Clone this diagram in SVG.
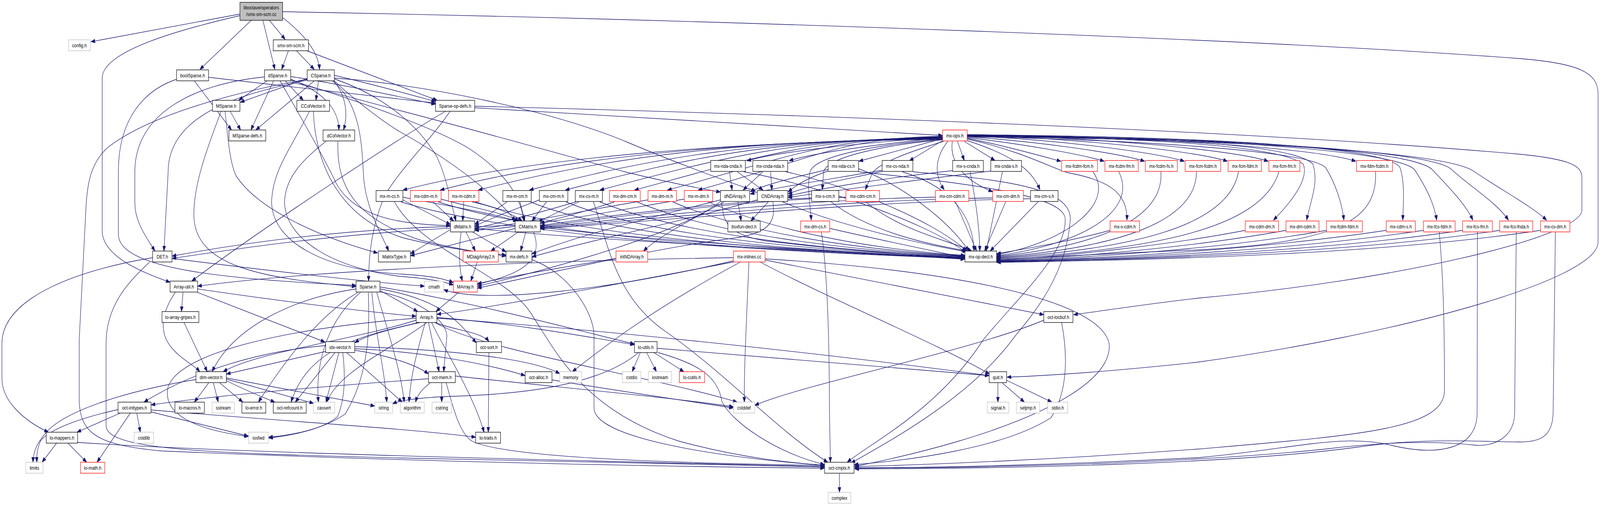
<svg xmlns="http://www.w3.org/2000/svg" width="4948" height="1296" viewBox="0 0 4948 1296" preserveAspectRatio="none">
<style>
svg{width:100vw;height:100vh;display:block;position:fixed;left:0;top:0}
.nd rect{fill:#fff;stroke:#000;stroke-width:1.33}
.gy rect{stroke:#bfbfbf}
.rd rect{stroke:#f00}
.rt rect{fill:#bfbfbf}
text{font-family:"Liberation Sans",Arial,Helvetica,sans-serif;font-size:13px;text-anchor:middle;fill:#000}
#edges path{fill:none;stroke:#191970;stroke-width:1.33;marker-end:url(#a)}
</style>
<defs>
<marker id="a" markerWidth="13" markerHeight="10" refX="13" refY="4.75" orient="auto" markerUnits="userSpaceOnUse"><path d="M0,0 L13,4.75 L0,9.5 z" fill="#191970" stroke="#191970" stroke-width="1"/></marker>
</defs>
<rect x="0" y="0" width="4948" height="1296" fill="#fff"/>
<g id="edges">
<path d="M742,36 L281,107"/>
<path d="M742,40 C560,75 316,130 316,200 L316,590 C316,660 450,700 526,723"/>
<path d="M777,52 L618,178"/>
<path d="M813,52 L850,178"/>
<path d="M833,52 L882,101"/>
<path d="M874,45 C935,85 985,130 988,178"/>
<path d="M874,30 C2200,50 3900,100 4700,150 C4880,162 4942,185 4942,240 L4942,620 C4942,720 4300,860 3700,928 C3450,950 3250,962 3114,966"/>
<path d="M892,130 L871,178"/>
<path d="M917,130 L972,178"/>
<path d="M949,130 L1352,257"/>
<path d="M601,207 L716,333"/>
<path d="M645,198 C900,222 1200,252 1347,264"/>
<path d="M546,203 C450,230 366,300 366,440 L366,600 C366,690 700,715 1101,731"/>
<path d="M826,207 L738,257"/>
<path d="M846,207 L776,333"/>
<path d="M882,207 L938,257"/>
<path d="M899,203 C1000,235 1048,280 1048,333"/>
<path d="M899,196 C1050,215 1250,250 1347,267"/>
<path d="M818,197 C600,215 417,290 417,440 L417,520 C417,570 455,610 479,643"/>
<path d="M866,207 C930,300 1000,400 1040,470 C1100,560 1250,575 1393,578"/>
<path d="M899,210 C1050,240 1150,265 1236,283 C1500,340 1800,410 1932,440 C2080,470 2180,485 2228,492"/>
<path d="M899,205 C1150,270 1350,330 1450,380 C1560,440 1610,500 1620,566"/>
<path d="M950,201 L743,262"/>
<path d="M972,207 L791,333"/>
<path d="M985,207 L977,257"/>
<path d="M1032,207 C1075,250 1075,300 1062,333"/>
<path d="M1034,193 C1150,215 1280,245 1347,260"/>
<path d="M950,205 C750,240 520,290 520,440 L507,643"/>
<path d="M950,203 C700,240 450,300 330,380 C280,420 270,470 266,530 L245,870 L245,1030 C250,1110 300,1140 500,1155 C1200,1180 2000,1195 2550,1199"/>
<path d="M1028,207 C1125,270 1119,400 1125,460 C1135,540 1180,600 1202,643"/>
<path d="M1034,202 C1200,250 1300,330 1350,400 C1380,450 1395,520 1410,566"/>
<path d="M1034,207 C1100,260 1200,320 1236,337 C1350,390 1500,470 1595,566"/>
<path d="M1034,200 C1300,215 1700,280 1948,367 C2100,420 2250,465 2337,490"/>
<path d="M712,285 L744,333"/>
<path d="M684,285 C640,380 595,480 600,560 C610,680 800,712 1101,734"/>
<path d="M696,285 C705,360 712,420 730,450 C800,540 1000,610 1168,648"/>
<path d="M957,285 C900,380 840,440 840,520 C845,620 1000,690 1240,702 C1320,706 1370,712 1402,724"/>
<path d="M969,285 C975,420 1050,560 1250,610 C1400,640 1500,648 1565,653"/>
<path d="M1008,362 C950,400 880,450 880,520 C885,620 1050,690 1240,708 C1320,713 1370,720 1402,730"/>
<path d="M1045,362 C1040,480 1100,560 1300,615 C1450,645 1520,650 1565,656"/>
<path d="M1468,276 L2915,347"/>
<path d="M1378,285 C1250,345 800,590 593,720"/>
<path d="M1392,285 C1330,360 1250,420 1190,500 C1150,580 1140,650 1140,720"/>
<path d="M1468,272 C2400,292 3800,330 4700,395 C4860,408 4892,425 4892,455 L4892,540 C4880,610 4300,720 3712,763 C3550,778 3420,795 3320,806"/>
<path d="M2915,350 C2700,365 2420,385 2310,412"/>
<path d="M2915,352 C2720,370 2520,390 2440,412"/>
<path d="M2915,355 L2656,413"/>
<path d="M2915,360 L2812,412"/>
<path d="M2961,362 L2982,411"/>
<path d="M2982,362 L3077,411"/>
<path d="M2991,354 C3100,372 3200,395 3281,413"/>
<path d="M2991,352 C3150,368 3330,392 3415,413"/>
<path d="M2991,350 C3200,362 3450,390 3540,413"/>
<path d="M2991,348 C3250,356 3560,388 3663,413"/>
<path d="M2991,347 C3300,352 3690,385 3796,413"/>
<path d="M2991,346 C3350,350 3810,382 3922,413"/>
<path d="M2991,345 C3450,348 4050,375 4193,413"/>
<path d="M2915,357 C2300,362 1650,400 1246,487"/>
<path d="M2915,356 C2300,361 1760,400 1361,487"/>
<path d="M2915,355 C2300,360 1880,400 1479,487"/>
<path d="M2915,354 C2350,359 2030,400 1637,487"/>
<path d="M2915,353 C2400,358 2140,400 1748,487"/>
<path d="M2915,352 C2450,357 2250,400 1855,487"/>
<path d="M2915,351 C2500,356 2350,400 1962,487"/>
<path d="M2915,350 C2550,355 2450,400 2064,487"/>
<path d="M2915,349 C2600,354 2540,400 2159,487"/>
<path d="M2915,358 C2750,370 2560,400 2547,440 L2543,486"/>
<path d="M2918,362 C2800,392 2712,420 2697,445 L2676,486"/>
<path d="M2931,362 C2895,400 2885,445 2920,486"/>
<path d="M2945,362 C2935,420 2990,465 3070,491"/>
<path d="M2991,360 C3120,395 3190,430 3216,486"/>
<path d="M2915,356 C2700,372 2520,400 2505,440 C2495,480 2505,520 2509,564"/>
<path d="M2991,356 C3150,385 3240,425 3300,442 C3420,460 3488,490 3485,564"/>
<path d="M2991,348 C3500,352 3950,370 4030,420 C4050,460 3990,520 3938,564"/>
<path d="M2991,347 C3600,352 4000,370 4060,420 C4080,470 4050,520 4041,564"/>
<path d="M2991,350 C3600,360 4060,390 4100,430 C4130,470 4150,520 4156,564"/>
<path d="M2991,345 C3800,350 4300,380 4330,430 C4345,470 4340,520 4338,564"/>
<path d="M2991,346 C3800,352 4330,390 4375,435 C4410,480 4435,520 4443,564"/>
<path d="M2991,347 C3900,352 4380,390 4430,435 C4480,480 4530,520 4555,564"/>
<path d="M2991,348 C3900,355 4440,390 4490,435 C4550,480 4630,520 4665,564"/>
<path d="M2991,349 C3900,360 4480,390 4560,440 C4650,490 4740,530 4783,564"/>
<path d="M2256,440 L2264,487"/>
<path d="M2280,440 L2360,487"/>
<path d="M2359,440 L2298,487"/>
<path d="M2383,440 L2387,487"/>
<path d="M2561,434 C2450,455 2360,475 2320,491"/>
<path d="M2561,438 C2500,455 2460,475 2437,492"/>
<path d="M2728,436 C2560,460 2400,480 2320,497"/>
<path d="M2728,439 C2600,462 2480,480 2437,497"/>
<path d="M2946,437 C2750,455 2550,480 2437,502"/>
<path d="M3064,438 C2850,460 2600,485 2437,506"/>
<path d="M2655,440 C3000,470 3290,500 3294,560 C3300,650 3150,760 3041,870 C2900,1050 2700,1130 2620,1184"/>
<path d="M2823,440 C3100,460 3310,480 3310,560 C3300,700 3200,800 3140,860 C3000,1020 2750,1130 2632,1186"/>
<path d="M2540,594 C2560,700 2565,900 2565,1050 L2568,1184"/>
<path d="M1220,517 C1300,640 1560,700 1640,800 C1720,900 1800,1050 2100,1130 C2300,1175 2450,1185 2550,1192"/>
<path d="M1835,517 C1880,620 1900,760 2060,850 C2250,960 2400,1100 2560,1184"/>
<path d="M1246,512 L1393,575"/>
<path d="M1246,505 C1400,530 1520,545 1600,567"/>
<path d="M1339,517 L1403,566"/>
<path d="M1364,510 C1450,530 1560,545 1605,566"/>
<path d="M1434,517 L1431,566"/>
<path d="M1460,517 C1530,530 1580,545 1615,566"/>
<path d="M1568,517 L1468,575"/>
<path d="M1608,517 L1623,566"/>
<path d="M1668,512 C1580,540 1500,565 1468,580"/>
<path d="M1690,517 L1645,566"/>
<path d="M1781,517 C1650,550 1520,575 1468,585"/>
<path d="M1790,517 L1665,568"/>
<path d="M1900,517 C1800,545 1720,560 1671,572"/>
<path d="M2004,512 C1800,540 1600,575 1468,588"/>
<path d="M2116,510 C1900,540 1650,580 1468,590"/>
<path d="M2510,507 C2200,520 1850,555 1671,578"/>
<path d="M2616,505 C2300,515 1900,555 1671,580"/>
<path d="M2893,505 C2500,510 2000,555 1671,582"/>
<path d="M3070,507 C2600,512 2100,555 1671,584"/>
<path d="M3187,509 C2700,515 2200,555 1671,586"/>
<path d="M1240,517 C1600,610 2400,645 2984,662"/>
<path d="M1355,517 C1700,610 2400,645 2984,661"/>
<path d="M1470,517 C1800,608 2450,645 2984,660"/>
<path d="M1640,517 C1900,605 2450,644 2984,659"/>
<path d="M1750,517 C2000,603 2500,643 2984,658"/>
<path d="M1855,517 C2100,600 2550,642 2984,657"/>
<path d="M1970,517 C2200,598 2600,641 2984,656"/>
<path d="M2080,517 C2300,596 2650,640 2984,655"/>
<path d="M2190,517 C2400,594 2700,639 2984,654"/>
<path d="M2566,585 C2750,620 2900,645 2984,660"/>
<path d="M1468,585 C1900,620 2500,640 2984,663"/>
<path d="M1671,582 C2000,615 2500,640 2984,664"/>
<path d="M2232,517 C2236,570 2250,600 2367,617 C2600,640 2850,655 2984,661"/>
<path d="M2420,517 C2600,580 2850,625 2990,645"/>
<path d="M2570,517 C2700,600 2900,630 2992,643"/>
<path d="M2678,517 C2780,590 2950,620 3005,643"/>
<path d="M2955,517 L3020,643"/>
<path d="M3110,517 L3045,643"/>
<path d="M3210,517 L3062,643"/>
<path d="M3433,590 C3300,620 3150,640 3082,650"/>
<path d="M2300,440 C2500,470 2850,560 2986,646"/>
<path d="M2430,440 C2600,470 2880,560 2990,643"/>
<path d="M2655,432 C2780,470 2930,560 2996,643"/>
<path d="M2790,440 C2950,480 3010,560 3012,643"/>
<path d="M3000,440 C3020,520 3030,600 3030,643"/>
<path d="M3100,440 C3080,520 3060,600 3050,643"/>
<path d="M3380,440 C3450,520 3300,620 3082,652"/>
<path d="M3460,440 C3520,540 3350,625 3082,655"/>
<path d="M3590,440 C3600,560 3400,630 3082,657"/>
<path d="M3700,440 C3700,570 3450,635 3082,659"/>
<path d="M3830,440 C3800,580 3500,638 3082,661"/>
<path d="M3955,440 C3900,590 3550,640 3082,663"/>
<path d="M4254,440 C4260,560 4150,620 3708,640 C3400,650 3200,660 3082,665"/>
<path d="M3851,590 C3600,630 3300,655 3082,667"/>
<path d="M3977,590 C3700,632 3350,657 3082,668"/>
<path d="M4102,590 C3800,635 3400,659 3082,669"/>
<path d="M4287,590 C3900,638 3450,661 3082,670"/>
<path d="M4402,590 C4000,640 3500,662 3082,670"/>
<path d="M4523,590 C4100,642 3550,663 3082,671"/>
<path d="M4638,590 C4200,645 3600,664 3082,671"/>
<path d="M4764,590 C4300,648 3650,665 3082,672"/>
<path d="M4451,594 C4462,700 4467,800 4467,1000 C4467,1100 4200,1115 3708,1150 C3300,1175 2900,1190 2643,1195"/>
<path d="M4569,594 L4568,1060 C4566,1150 4450,1170 4300,1140 C4150,1110 4000,1150 3708,1172 C3300,1190 2900,1198 2643,1198"/>
<path d="M4689,594 L4684,1060 C4682,1120 4620,1145 4560,1140 C4450,1130 4300,1130 4100,1150 C3700,1185 3100,1198 2643,1199"/>
<path d="M4810,594 L4803,1060 C4800,1120 4760,1132 4700,1132 C4600,1132 4400,1120 4200,1145 C3800,1190 3100,1200 2643,1201"/>
<path d="M1426,594 C1418,640 1420,690 1430,720"/>
<path d="M1441,594 L1470,643"/>
<path d="M1461,594 L1565,645"/>
<path d="M1393,588 L1269,650"/>
<path d="M1393,580 C1000,590 700,630 532,656"/>
<path d="M1626,594 L1610,643"/>
<path d="M1603,594 L1518,643"/>
<path d="M1593,585 L1269,655"/>
<path d="M1593,577 C1100,590 750,635 532,662"/>
<path d="M1650,594 C1680,660 1630,700 1476,728"/>
<path d="M2282,517 L2292,566"/>
<path d="M2240,517 C2120,570 2030,610 1990,643"/>
<path d="M2228,512 C2000,560 1800,600 1645,650"/>
<path d="M2228,516 C2100,600 1700,690 1476,733"/>
<path d="M2376,517 L2322,566"/>
<path d="M2342,512 C2100,570 1800,620 1645,658"/>
<path d="M2390,517 C2400,570 2380,600 2250,612 C2000,640 1700,700 1476,738"/>
<path d="M1905,662 C1700,690 1550,712 1476,727"/>
<path d="M1476,671 L1456,720"/>
<path d="M1418,749 L1348,798"/>
<path d="M1645,665 C1760,700 1837,800 1837,860 L1837,1045 C1837,1120 2200,1170 2550,1192"/>
<path d="M472,660 C250,690 6,760 6,880 L6,970 C6,1030 80,1080 150,1107"/>
<path d="M463,671 C400,720 328,780 328,880 L328,1090 C328,1150 600,1160 1240,1173 C1800,1183 2300,1192 2550,1196"/>
<path d="M532,662 C800,690 1100,720 1313,733"/>
<path d="M566,749 L561,798"/>
<path d="M542,749 C500,800 490,850 530,890 C560,920 600,935 618,952"/>
<path d="M611,740 C900,775 1150,800 1287,810"/>
<path d="M611,749 L1005,876"/>
<path d="M569,826 L641,952"/>
<path d="M1175,744 L1292,798"/>
<path d="M1101,740 C900,765 720,840 656,952"/>
<path d="M1107,749 C1000,800 900,900 799,1030"/>
<path d="M1115,749 C1000,830 975,950 985,1030"/>
<path d="M1139,749 C1144,850 1140,960 1068,1060 C1000,1100 900,1115 830,1120"/>
<path d="M1150,749 C1160,850 1190,950 1196,1030"/>
<path d="M1175,740 C1380,770 1420,830 1473,878"/>
<path d="M1175,747 C1300,770 1380,820 1382,860 L1372,952"/>
<path d="M1175,735 C1500,780 1800,850 1962,881"/>
<path d="M1165,749 C1200,850 1240,950 1250,1030"/>
<path d="M1295,826 C1200,845 1130,860 1097,878"/>
<path d="M1287,820 C1100,870 800,900 690,952"/>
<path d="M1325,826 L1358,952"/>
<path d="M1345,826 C1400,845 1490,850 1512,875"/>
<path d="M1335,826 C1350,860 1460,1000 1497,1107"/>
<path d="M1351,813 C1600,830 1800,860 1962,883"/>
<path d="M1351,815 C1800,840 2500,900 3059,962"/>
<path d="M1300,826 C1100,860 950,900 900,1030"/>
<path d="M1320,826 C1200,900 1050,950 1010,1030"/>
<path d="M1345,826 C1500,900 2000,960 2280,1030"/>
<path d="M1315,826 C1290,900 1270,960 1265,1030"/>
<path d="M1287,815 C900,840 560,900 520,990 C500,1060 600,1100 768,1118"/>
<path d="M1008,900 L700,958"/>
<path d="M1007,885 C800,900 600,950 445,1030"/>
<path d="M1036,903 L913,1030"/>
<path d="M1048,903 L1008,1030"/>
<path d="M1060,903 C1068,960 1068,1020 1044,1067 C1000,1100 900,1115 831,1122"/>
<path d="M1072,903 L1244,1030"/>
<path d="M1097,893 C1300,900 1500,930 1624,962"/>
<path d="M1097,888 C1400,895 1650,920 1731,957"/>
<path d="M1097,897 C1200,910 1290,935 1325,958"/>
<path d="M645,981 L601,1030"/>
<path d="M660,981 L675,1030"/>
<path d="M680,981 L751,1030"/>
<path d="M700,975 C760,1000 820,1020 850,1030"/>
<path d="M700,971 L970,1033"/>
<path d="M700,968 L1159,1040"/>
<path d="M606,972 C400,1000 200,1050 140,1110 C110,1140 103,1160 102,1184"/>
<path d="M365,1049 C250,1070 150,1100 125,1130 C115,1150 113,1165 114,1184"/>
<path d="M372,1058 L238,1107"/>
<path d="M403,1058 L300,1184"/>
<path d="M423,1058 L434,1107"/>
<path d="M467,1055 L768,1117"/>
<path d="M467,1050 C900,1080 1300,1100 1471,1120"/>
<path d="M175,1135 L130,1184"/>
<path d="M210,1135 L268,1184"/>
<path d="M240,1133 C700,1160 1800,1180 2550,1195"/>
<path d="M1330,981 C1300,1000 1290,1015 1285,1030"/>
<path d="M1366,981 L1366,1030"/>
<path d="M1408,963 C1700,990 2100,1020 2268,1042"/>
<path d="M1380,981 C1400,1040 1420,1110 1460,1130 C1560,1170 2000,1185 2550,1192"/>
<path d="M1325,970 C1000,990 700,1010 467,1037"/>
<path d="M1707,973 C1900,1000 2150,1030 2268,1045"/>
<path d="M1512,903 L1510,1107"/>
<path d="M1980,903 L1955,952"/>
<path d="M2000,903 L2030,952"/>
<path d="M2022,903 L2115,952"/>
<path d="M1975,903 C1850,990 1600,1010 1400,1015 C1300,1018 1240,1025 1214,1034"/>
<path d="M2032,892 L3059,962"/>
<path d="M2035,903 C2150,930 2220,960 2232,1027 C2260,1080 2400,1160 2550,1190"/>
<path d="M2268,660 C1500,670 900,700 611,733"/>
<path d="M2268,668 C1900,740 1500,780 1372,742"/>
<path d="M2268,671 C1900,730 1500,790 1351,805"/>
<path d="M2316,671 C2310,800 2300,950 2302,1030"/>
<path d="M2351,671 C2550,760 2900,880 3060,958"/>
<path d="M2366,663 C2900,690 3400,760 3430,880 C3445,1000 3100,1120 2641,1195"/>
<path d="M2366,666 C2700,720 3000,770 3228,806"/>
<path d="M2290,671 C2000,800 1850,900 1770,952"/>
<path d="M3228,820 C3000,900 2500,980 2334,1038"/>
<path d="M3283,826 C3300,900 3306,1000 3250,1070 C3100,1150 2800,1180 2641,1190"/>
<path d="M3086,981 L3086,1030"/>
<path d="M3100,981 L3168,1030"/>
<path d="M3113,974 L3253,1030"/>
<path d="M2596,1212 L2596,1261"/>
</g>
<g id="n_root" class="nd rt"><rect x="742" y="6" width="132" height="46"/><text x="808" y="24">liboctave/operators</text><text x="808" y="41">/smx-sm-scm.cc</text></g>
<g id="n_config_h" class="nd gy"><rect x="212" y="102" width="67" height="28"/><text x="245.5" y="121">config.h</text></g>
<g id="n_smx_sm_scm_h" class="nd"><rect x="845" y="102" width="109" height="28"/><text x="899.5" y="121">smx-sm-scm.h</text></g>
<g id="n_boolSparse_h" class="nd"><rect x="546" y="179" width="99" height="28"/><text x="595.5" y="198">boolSparse.h</text></g>
<g id="n_dSparse_h" class="nd"><rect x="818" y="179" width="81" height="28"/><text x="858.5" y="198">dSparse.h</text></g>
<g id="n_CSparse_h" class="nd"><rect x="950" y="179" width="84" height="28"/><text x="992" y="198">CSparse.h</text></g>
<g id="n_MSparse_h" class="nd"><rect x="657" y="257" width="85" height="28"/><text x="699.5" y="276">MSparse.h</text></g>
<g id="n_CColVector_h" class="nd"><rect x="918" y="257" width="101" height="28"/><text x="968.5" y="276">CColVector.h</text></g>
<g id="n_Sparse_op_defs_h" class="nd"><rect x="1347" y="257" width="121" height="28"/><text x="1407.5" y="276">Sparse-op-defs.h</text></g>
<g id="n_MSparse_defs_h" class="nd"><rect x="708" y="333" width="114" height="28"/><text x="765" y="352">MSparse-defs.h</text></g>
<g id="n_dColVector_h" class="nd"><rect x="999" y="333" width="98" height="28"/><text x="1048" y="352">dColVector.h</text></g>
<g id="n_mx_ops_h" class="nd rd"><rect x="2915" y="333" width="76" height="28"/><text x="2953" y="352">mx-ops.h</text></g>
<g id="n_mx_nda_cnda_h" class="nd"><rect x="2198" y="411" width="107" height="28"/><text x="2251.5" y="430">mx-nda-cnda.h</text></g>
<g id="n_mx_cnda_nda_h" class="nd"><rect x="2328" y="411" width="108" height="28"/><text x="2382" y="430">mx-cnda-nda.h</text></g>
<g id="n_mx_nda_cs_h" class="nd"><rect x="2561" y="411" width="94" height="28"/><text x="2608" y="430">mx-nda-cs.h</text></g>
<g id="n_mx_cs_nda_h" class="nd"><rect x="2728" y="411" width="95" height="28"/><text x="2775.5" y="430">mx-cs-nda.h</text></g>
<g id="n_mx_s_cnda_h" class="nd"><rect x="2946" y="411" width="95" height="28"/><text x="2993.5" y="430">mx-s-cnda.h</text></g>
<g id="n_mx_cnda_s_h" class="nd"><rect x="3064" y="411" width="95" height="28"/><text x="3111.5" y="430">mx-cnda-s.h</text></g>
<g id="n_mx_fcdm_fcm_h" class="nd rd"><rect x="3283" y="411" width="111" height="28"/><text x="3338.5" y="430">mx-fcdm-fcm.h</text></g>
<g id="n_mx_fcdm_fm_h" class="nd rd"><rect x="3417" y="411" width="103" height="28"/><text x="3468.5" y="430">mx-fcdm-fm.h</text></g>
<g id="n_mx_fcdm_fs_h" class="nd rd"><rect x="3542" y="411" width="99" height="28"/><text x="3591.5" y="430">mx-fcdm-fs.h</text></g>
<g id="n_mx_fcm_fcdm_h" class="nd rd"><rect x="3665" y="411" width="110" height="28"/><text x="3720" y="430">mx-fcm-fcdm.h</text></g>
<g id="n_mx_fcm_fdm_h" class="nd rd"><rect x="3798" y="411" width="103" height="28"/><text x="3849.5" y="430">mx-fcm-fdm.h</text></g>
<g id="n_mx_fcm_fm_h" class="nd rd"><rect x="3924" y="411" width="96" height="28"/><text x="3972" y="430">mx-fcm-fm.h</text></g>
<g id="n_mx_fdm_fcdm_h" class="nd rd"><rect x="4195" y="411" width="111" height="28"/><text x="4250.5" y="430">mx-fdm-fcdm.h</text></g>
<g id="n_mx_m_cs_h" class="nd"><rect x="1163" y="488" width="83" height="28"/><text x="1204.5" y="507">mx-m-cs.h</text></g>
<g id="n_mx_cdm_m_h" class="nd rd"><rect x="1269" y="488" width="95" height="28"/><text x="1316.5" y="507">mx-cdm-m.h</text></g>
<g id="n_mx_m_cdm_h" class="nd rd"><rect x="1387" y="488" width="94" height="28"/><text x="1434" y="507">mx-m-cdm.h</text></g>
<g id="n_mx_m_cm_h" class="nd"><rect x="1555" y="488" width="88" height="28"/><text x="1599" y="507">mx-m-cm.h</text></g>
<g id="n_mx_cm_m_h" class="nd"><rect x="1668" y="488" width="88" height="28"/><text x="1712" y="507">mx-cm-m.h</text></g>
<g id="n_mx_cs_m_h" class="nd"><rect x="1779" y="488" width="84" height="28"/><text x="1821" y="507">mx-cs-m.h</text></g>
<g id="n_mx_dm_cm_h" class="nd rd"><rect x="1885" y="488" width="95" height="28"/><text x="1932.5" y="507">mx-dm-cm.h</text></g>
<g id="n_mx_dm_m_h" class="nd rd"><rect x="2004" y="488" width="88" height="28"/><text x="2048" y="507">mx-dm-m.h</text></g>
<g id="n_mx_m_dm_h" class="nd rd"><rect x="2116" y="488" width="88" height="28"/><text x="2160" y="507">mx-m-dm.h</text></g>
<g id="n_dNDArray_h" class="nd"><rect x="2228" y="488" width="90" height="28"/><text x="2273" y="507">dNDArray.h</text></g>
<g id="n_CNDArray_h" class="nd"><rect x="2342" y="488" width="94" height="28"/><text x="2389" y="507">CNDArray.h</text></g>
<g id="n_mx_s_cm_h" class="nd"><rect x="2510" y="488" width="84" height="28"/><text x="2552" y="507">mx-s-cm.h</text></g>
<g id="n_mx_cdm_cm_h" class="nd rd"><rect x="2616" y="488" width="104" height="28"/><text x="2668" y="507">mx-cdm-cm.h</text></g>
<g id="n_mx_cm_cdm_h" class="nd rd"><rect x="2893" y="488" width="103" height="28"/><text x="2944.5" y="507">mx-cm-cdm.h</text></g>
<g id="n_mx_cm_dm_h" class="nd rd"><rect x="3070" y="488" width="95" height="28"/><text x="3117.5" y="507">mx-cm-dm.h</text></g>
<g id="n_mx_cm_s_h" class="nd"><rect x="3187" y="488" width="85" height="28"/><text x="3229.5" y="507">mx-cm-s.h</text></g>
<g id="n_dMatrix_h" class="nd"><rect x="1393" y="566" width="75" height="28"/><text x="1430.5" y="585">dMatrix.h</text></g>
<g id="n_CMatrix_h" class="nd"><rect x="1593" y="566" width="78" height="28"/><text x="1632" y="585">CMatrix.h</text></g>
<g id="n_bsxfun_decl_h" class="nd"><rect x="2251" y="566" width="100" height="28"/><text x="2301" y="585">bsxfun-decl.h</text></g>
<g id="n_mx_dm_cs_h" class="nd rd"><rect x="2476" y="566" width="90" height="28"/><text x="2521" y="585">mx-dm-cs.h</text></g>
<g id="n_mx_s_cdm_h" class="nd rd"><rect x="3433" y="566" width="91" height="28"/><text x="3478.5" y="585">mx-s-cdm.h</text></g>
<g id="n_mx_cdm_dm_h" class="nd rd"><rect x="3851" y="566" width="103" height="28"/><text x="3902.5" y="585">mx-cdm-dm.h</text></g>
<g id="n_mx_dm_cdm_h" class="nd rd"><rect x="3977" y="566" width="102" height="28"/><text x="4028" y="585">mx-dm-cdm.h</text></g>
<g id="n_mx_fcdm_fdm_h" class="nd rd"><rect x="4102" y="566" width="111" height="28"/><text x="4157.5" y="585">mx-fcdm-fdm.h</text></g>
<g id="n_mx_cdm_s_h" class="nd rd"><rect x="4287" y="566" width="90" height="28"/><text x="4332" y="585">mx-cdm-s.h</text></g>
<g id="n_mx_fcs_fdm_h" class="nd rd"><rect x="4402" y="566" width="98" height="28"/><text x="4451" y="585">mx-fcs-fdm.h</text></g>
<g id="n_mx_fcs_fm_h" class="nd rd"><rect x="4523" y="566" width="92" height="28"/><text x="4569" y="585">mx-fcs-fm.h</text></g>
<g id="n_mx_fcs_fnda_h" class="nd rd"><rect x="4638" y="566" width="102" height="28"/><text x="4689" y="585">mx-fcs-fnda.h</text></g>
<g id="n_mx_cs_dm_h" class="nd rd"><rect x="4764" y="566" width="91" height="28"/><text x="4809.5" y="585">mx-cs-dm.h</text></g>
<g id="n_DET_h" class="nd"><rect x="472" y="643" width="60" height="28"/><text x="502" y="662">DET.h</text></g>
<g id="n_MatrixType_h" class="nd"><rect x="1170" y="643" width="99" height="28"/><text x="1219.5" y="662">MatrixType.h</text></g>
<g id="n_MDiagArray2_h" class="nd rd"><rect x="1432" y="643" width="109" height="28"/><text x="1486.5" y="662">MDiagArray2.h</text></g>
<g id="n_mx_defs_h" class="nd"><rect x="1565" y="643" width="80" height="28"/><text x="1605" y="662">mx-defs.h</text></g>
<g id="n_intNDArray_h" class="nd rd"><rect x="1905" y="643" width="98" height="28"/><text x="1954" y="662">intNDArray.h</text></g>
<g id="n_mx_inlines_cc" class="nd rd"><rect x="2268" y="643" width="98" height="28"/><text x="2317" y="662">mx-inlines.cc</text></g>
<g id="n_mx_op_decl_h" class="nd"><rect x="2984" y="643" width="98" height="28"/><text x="3033" y="662">mx-op-decl.h</text></g>
<g id="n_Array_util_h" class="nd"><rect x="526" y="720" width="85" height="28"/><text x="568.5" y="739">Array-util.h</text></g>
<g id="n_Sparse_h" class="nd"><rect x="1101" y="720" width="74" height="28"/><text x="1138" y="739">Sparse.h</text></g>
<g id="n_cmath" class="nd gy"><rect x="1313" y="720" width="59" height="28"/><text x="1342.5" y="739">cmath</text></g>
<g id="n_MArray_h" class="nd rd"><rect x="1402" y="720" width="74" height="28"/><text x="1439" y="739">MArray.h</text></g>
<g id="n_lo_array_gripes_h" class="nd"><rect x="501" y="798" width="114" height="28"/><text x="558" y="817">lo-array-gripes.h</text></g>
<g id="n_Array_h" class="nd"><rect x="1287" y="798" width="64" height="28"/><text x="1319" y="817">Array.h</text></g>
<g id="n_oct_locbuf_h" class="nd"><rect x="3228" y="798" width="90" height="28"/><text x="3273" y="817">oct-locbuf.h</text></g>
<g id="n_idx_vector_h" class="nd"><rect x="1007" y="875" width="90" height="28"/><text x="1052" y="894">idx-vector.h</text></g>
<g id="n_oct_sort_h" class="nd"><rect x="1473" y="875" width="78" height="28"/><text x="1512" y="894">oct-sort.h</text></g>
<g id="n_lo_utils_h" class="nd"><rect x="1962" y="875" width="70" height="28"/><text x="1997" y="894">lo-utils.h</text></g>
<g id="n_dim_vector_h" class="nd"><rect x="606" y="952" width="94" height="28"/><text x="653" y="971">dim-vector.h</text></g>
<g id="n_oct_mem_h" class="nd"><rect x="1325" y="952" width="83" height="28"/><text x="1366.5" y="971">oct-mem.h</text></g>
<g id="n_oct_alloc_h" class="nd"><rect x="1624" y="952" width="83" height="28"/><text x="1665.5" y="971">oct-alloc.h</text></g>
<g id="n_memory" class="nd gy"><rect x="1731" y="952" width="68" height="28"/><text x="1765" y="971">memory</text></g>
<g id="n_cstdio" class="nd gy"><rect x="1925" y="952" width="57" height="28"/><text x="1953.5" y="971">cstdio</text></g>
<g id="n_iostream" class="nd gy"><rect x="2005" y="952" width="72" height="28"/><text x="2041" y="971">iostream</text></g>
<g id="n_lo_cutils_h" class="nd rd"><rect x="2101" y="952" width="78" height="28"/><text x="2140" y="971">lo-cutils.h</text></g>
<g id="n_quit_h" class="nd"><rect x="3059" y="952" width="54" height="28"/><text x="3086" y="971">quit.h</text></g>
<g id="n_oct_inttypes_h" class="nd"><rect x="365" y="1030" width="102" height="28"/><text x="416" y="1049">oct-inttypes.h</text></g>
<g id="n_lo_macros_h" class="nd"><rect x="541" y="1030" width="91" height="28"/><text x="586.5" y="1049">lo-macros.h</text></g>
<g id="n_sstream" class="nd gy"><rect x="656" y="1030" width="69" height="28"/><text x="690.5" y="1049">sstream</text></g>
<g id="n_lo_error_h" class="nd"><rect x="748" y="1030" width="74" height="28"/><text x="785" y="1049">lo-error.h</text></g>
<g id="n_oct_refcount_h" class="nd"><rect x="845" y="1030" width="102" height="28"/><text x="896" y="1049">oct-refcount.h</text></g>
<g id="n_cassert" class="nd gy"><rect x="969" y="1030" width="66" height="28"/><text x="1002" y="1049">cassert</text></g>
<g id="n_string" class="nd gy"><rect x="1159" y="1030" width="55" height="28"/><text x="1186.5" y="1049">string</text></g>
<g id="n_algorithm" class="nd gy"><rect x="1238" y="1030" width="74" height="28"/><text x="1275" y="1049">algorithm</text></g>
<g id="n_cstring" class="nd gy"><rect x="1336" y="1030" width="61" height="28"/><text x="1366.5" y="1049">cstring</text></g>
<g id="n_cstddef" class="nd gy"><rect x="2268" y="1030" width="66" height="28"/><text x="2301" y="1049">cstddef</text></g>
<g id="n_signal_h" class="nd gy"><rect x="3053" y="1030" width="67" height="28"/><text x="3086.5" y="1049">signal.h</text></g>
<g id="n_setjmp_h" class="nd gy"><rect x="3143" y="1030" width="72" height="28"/><text x="3179" y="1049">setjmp.h</text></g>
<g id="n_stdio_h" class="nd gy"><rect x="3240" y="1030" width="62" height="28"/><text x="3271" y="1049">stdio.h</text></g>
<g id="n_lo_mappers_h" class="nd"><rect x="143" y="1107" width="97" height="28"/><text x="191.5" y="1126">lo-mappers.h</text></g>
<g id="n_cstdlib" class="nd gy"><rect x="415" y="1107" width="60" height="28"/><text x="445" y="1126">cstdlib</text></g>
<g id="n_iosfwd" class="nd gy"><rect x="769" y="1107" width="61" height="28"/><text x="799.5" y="1126">iosfwd</text></g>
<g id="n_lo_traits_h" class="nd"><rect x="1471" y="1107" width="77" height="28"/><text x="1509.5" y="1126">lo-traits.h</text></g>
<g id="n_limits" class="nd gy"><rect x="80" y="1184" width="53" height="28"/><text x="106.5" y="1203">limits</text></g>
<g id="n_lo_math_h" class="nd rd"><rect x="249" y="1184" width="75" height="28"/><text x="286.5" y="1203">lo-math.h</text></g>
<g id="n_oct_cmplx_h" class="nd"><rect x="2550" y="1184" width="91" height="28"/><text x="2595.5" y="1203">oct-cmplx.h</text></g>
<g id="n_complex" class="nd gy"><rect x="2561" y="1261" width="70" height="28"/><text x="2596" y="1280">complex</text></g>
</svg>
